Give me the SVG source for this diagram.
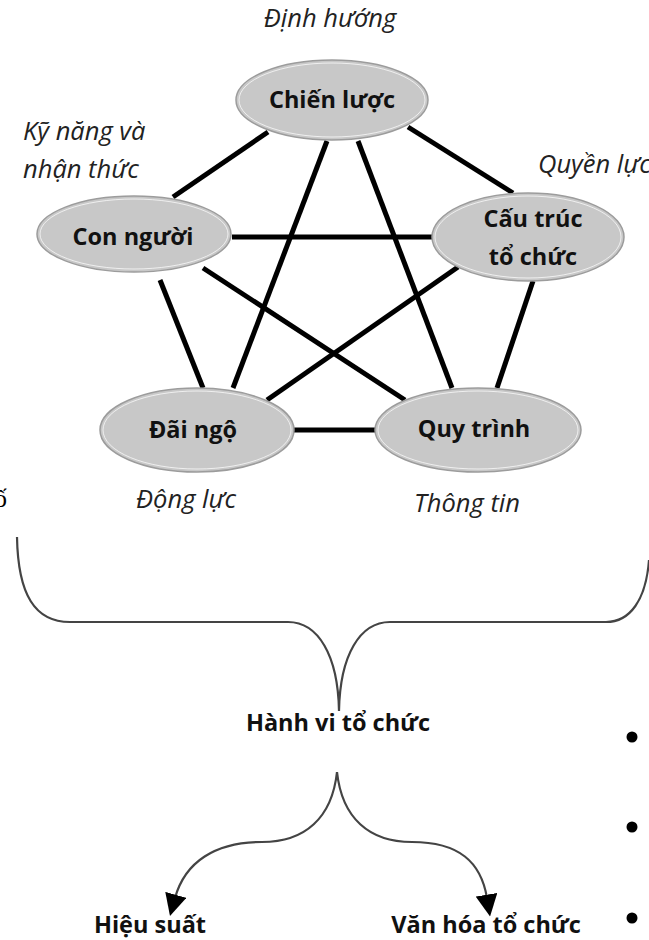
<svg xmlns="http://www.w3.org/2000/svg" width="649" height="940" viewBox="0 0 649 940">
<defs>
<style>
.node{fill:#c8c8c8;stroke:#9c9c9c;stroke-width:1.5}
.ring{fill:none;stroke:#ffffff;stroke-width:1;opacity:0.7}
.lbl{font-family:"Open Sans","Liberation Sans",sans-serif;font-weight:bold;font-size:23.5px;fill:#111;text-anchor:middle}
.it{font-family:"Open Sans","Liberation Sans",sans-serif;font-style:italic;font-size:25.5px;fill:#222}
.edge{stroke:#000;stroke-width:5;stroke-linecap:butt}
.brace{fill:none;stroke:#444;stroke-width:2.2}
</style>
<marker id="arr" viewBox="0 0 20 20" refX="3" refY="10" markerWidth="22" markerHeight="22" markerUnits="userSpaceOnUse" orient="auto">
<path d="M0,0 L20,10 L0,20 z" fill="#000"/>
</marker>
</defs>
<rect width="649" height="940" fill="#fff"/>

<g id="connectors">
<line class="edge" x1="173" y1="197" x2="268" y2="132"/>
<line class="edge" x1="232" y1="237" x2="432" y2="237"/>
<line class="edge" x1="160" y1="280" x2="203" y2="388"/>
<line class="edge" x1="203" y1="268" x2="405" y2="400"/>
<line class="edge" x1="408" y1="127" x2="513" y2="193"/>
<line class="edge" x1="327" y1="141" x2="233" y2="388"/>
<line class="edge" x1="358" y1="141" x2="452" y2="388"/>
<line class="edge" x1="458" y1="267" x2="267" y2="400"/>
<line class="edge" x1="533" y1="281" x2="497" y2="388"/>
<line class="edge" x1="293" y1="430" x2="375" y2="430"/>
</g>

<g id="node-chien-luoc">
<ellipse class="node" cx="332" cy="100" rx="96" ry="40"/>
<ellipse class="ring" cx="332" cy="100" rx="93" ry="37"/>
<text class="lbl" x="332" y="108">Chiến lược</text>
</g>
<g id="node-con-nguoi">
<ellipse class="node" cx="134" cy="234" rx="97" ry="38"/>
<ellipse class="ring" cx="134" cy="234" rx="94" ry="35"/>
<text class="lbl" x="133" y="245">Con người</text>
</g>
<g id="node-cau-truc">
<ellipse class="node" cx="528" cy="237" rx="96" ry="44"/>
<ellipse class="ring" cx="528" cy="237" rx="93" ry="41"/>
<text class="lbl" x="533" y="227">Cấu trúc</text>
<text class="lbl" x="533" y="265">tổ chức</text>
</g>
<g id="node-dai-ngo">
<ellipse class="node" cx="197" cy="430" rx="97" ry="42"/>
<ellipse class="ring" cx="197" cy="430" rx="94" ry="39"/>
<text class="lbl" x="193" y="438">Đãi ngộ</text>
</g>
<g id="node-quy-trinh">
<ellipse class="node" cx="478" cy="430" rx="103" ry="42"/>
<ellipse class="ring" cx="478" cy="430" rx="100" ry="39"/>
<text class="lbl" x="474" y="437">Quy trình</text>
</g>

<g id="annotations">
<text class="it" x="330" y="27" text-anchor="middle">Định hướng</text>
<text class="it" x="23" y="140">Kỹ năng và</text>
<text class="it" x="23" y="178">nhận thức</text>
<text class="it" x="538" y="173">Quyền lực</text>
<text class="it" x="186" y="508" text-anchor="middle">Động lực</text>
<text class="it" x="467" y="512" text-anchor="middle">Thông tin</text>
<text x="-6" y="507" font-family="'Liberation Serif',serif" font-size="26" fill="#000">ố</text>
</g>

<g id="brace">
<path class="brace" d="M17,537 C18,595 35,622 70,622 L288,622 C318,622 338,655 339,711 C340,655 360,622 390,622 L606,622 C630,622 646,600 649,560"/>
</g>

<g id="node-hanh-vi">
<text class="lbl" x="338" y="731">Hành vi tổ chức</text>
</g>

<g id="outcome-arrows">
<path class="brace" stroke="#333" d="M337,772 C332,818 305,842 262,842 C215,842 185,862 175,898" marker-end="url(#arr)"/>
<path class="brace" stroke="#333" d="M337,772 C342,818 369,842 412,842 C459,842 481,862 487,898" marker-end="url(#arr)"/>
</g>

<g id="node-hieu-suat">
<text class="lbl" x="150" y="933">Hiệu suất</text>
</g>
<g id="node-van-hoa">
<text class="lbl" x="486" y="933">Văn hóa tổ chức</text>
</g>

<g id="bullets">
<circle cx="632" cy="737" r="5.5" fill="#000"/>
<circle cx="632" cy="827" r="5.5" fill="#000"/>
<circle cx="632" cy="918" r="5.5" fill="#000"/>
</g>
</svg>
